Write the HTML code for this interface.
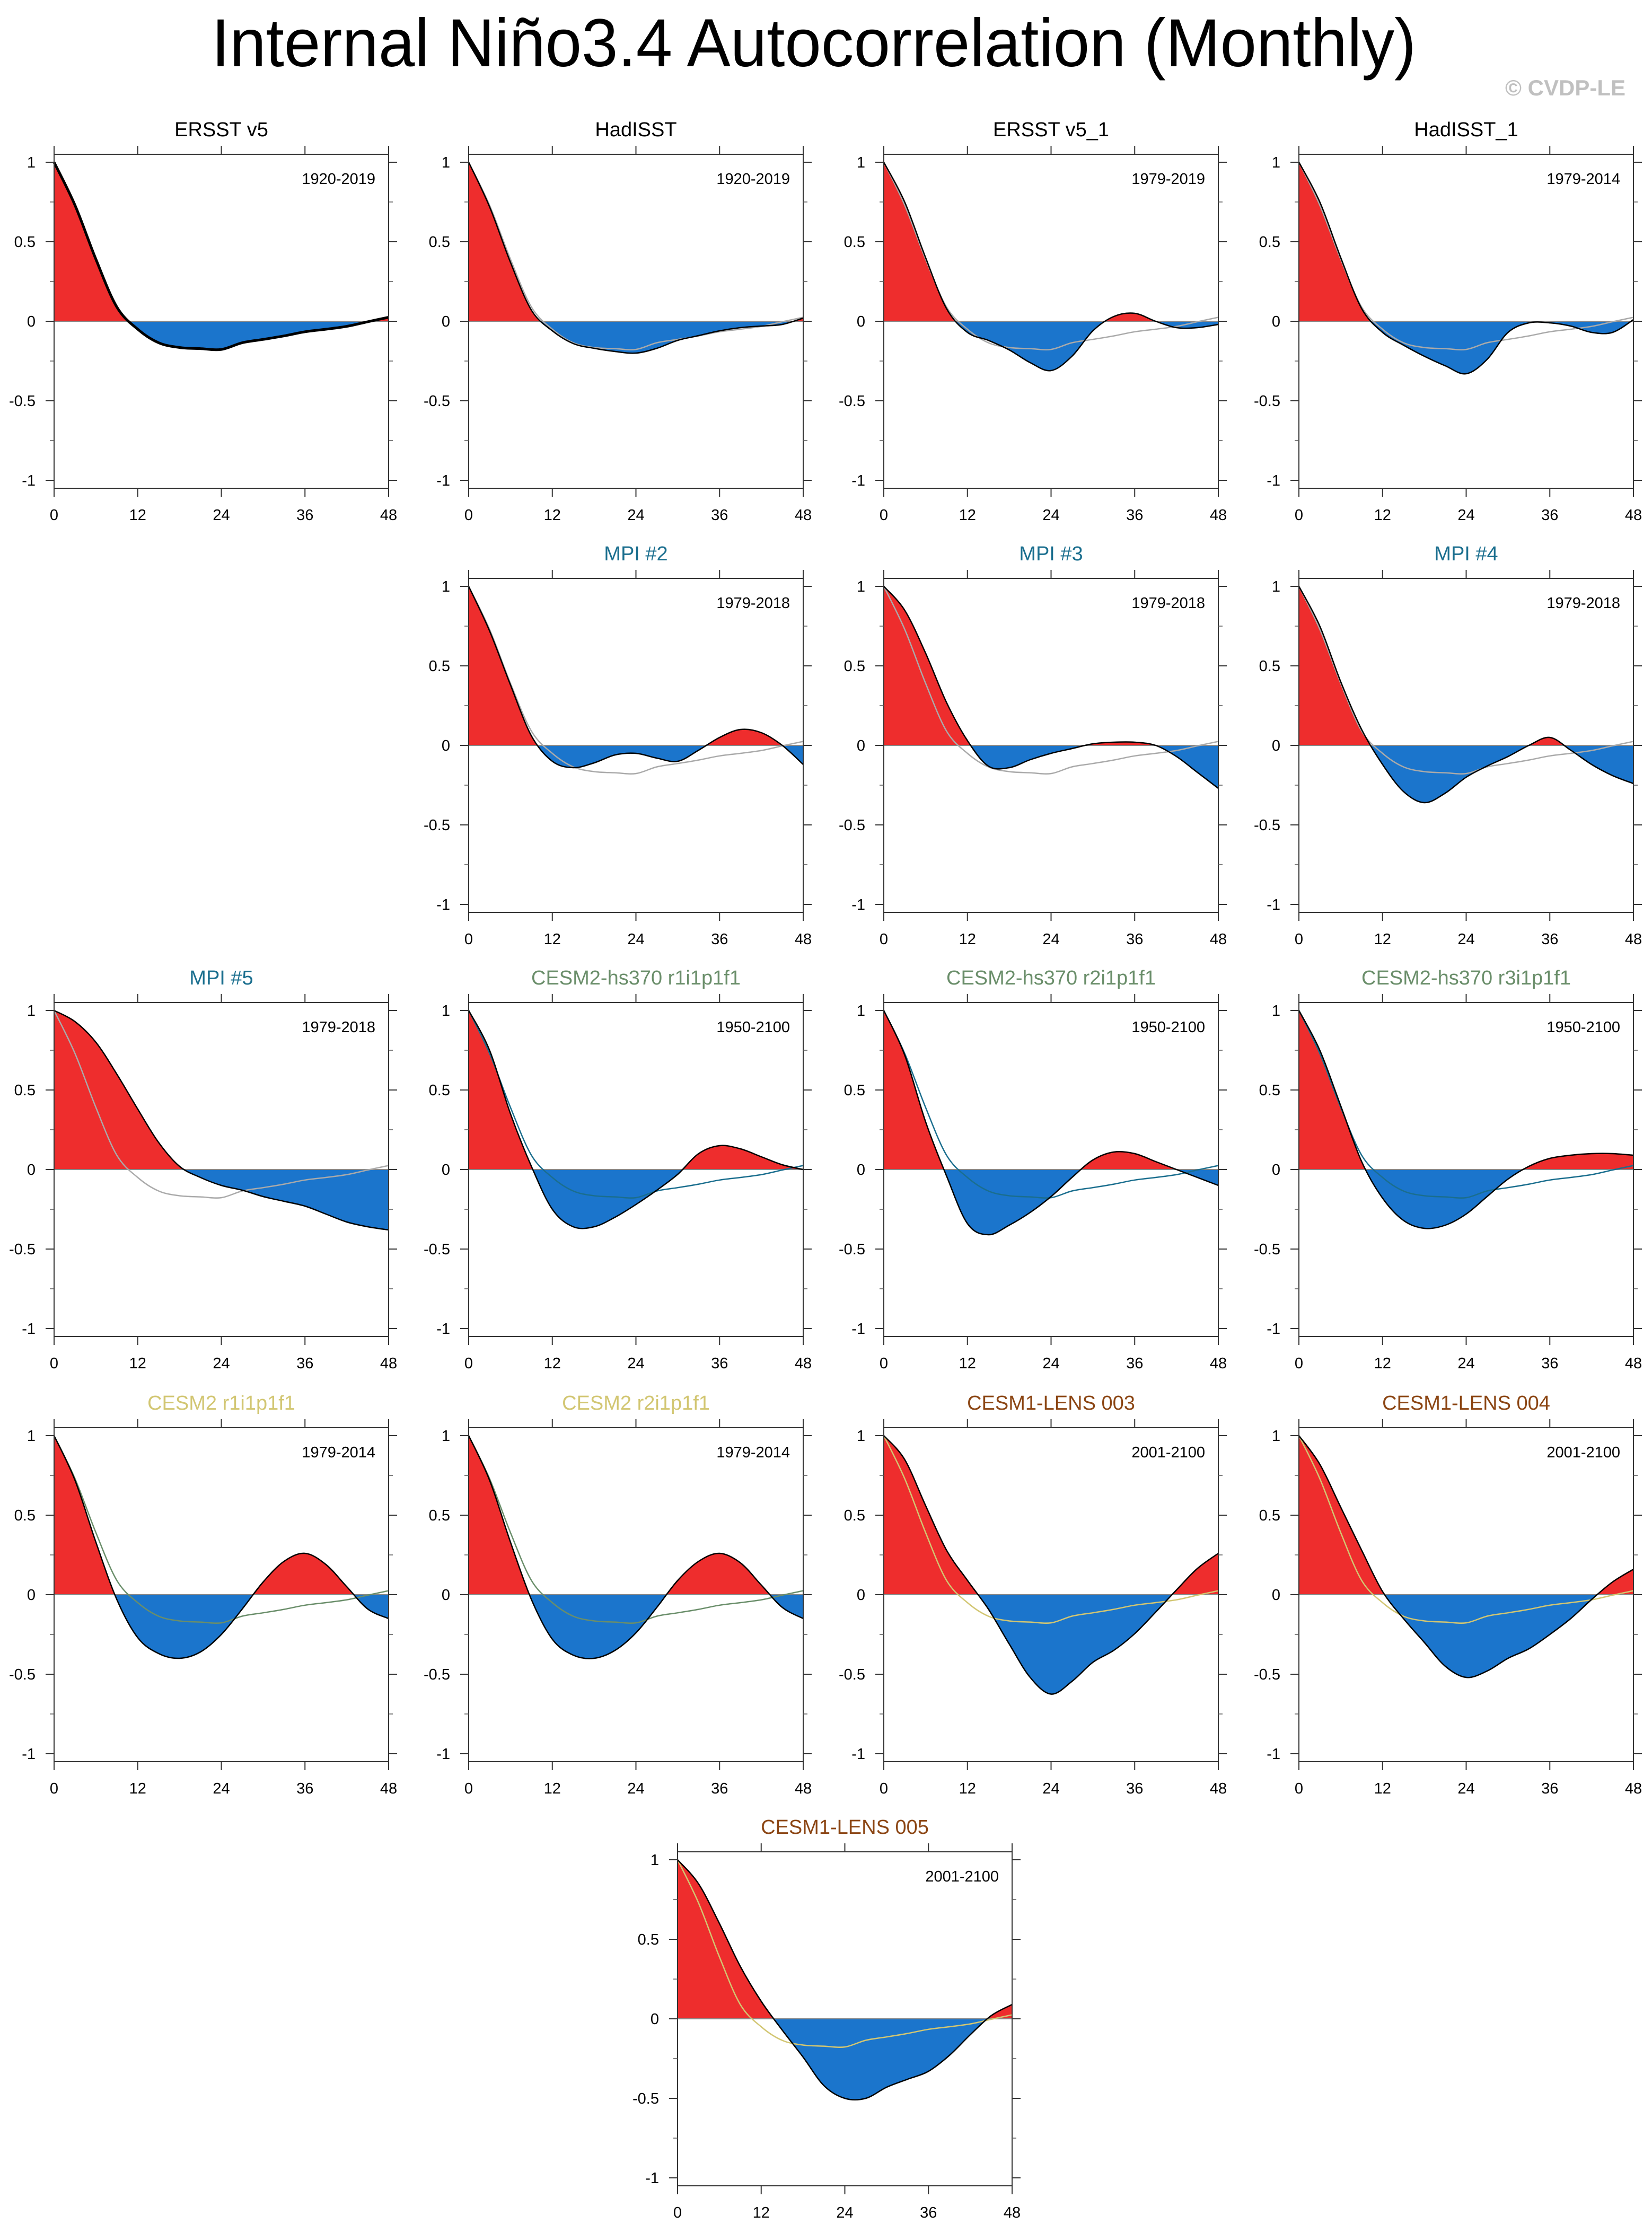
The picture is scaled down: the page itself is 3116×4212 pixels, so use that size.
<!DOCTYPE html>
<html><head><meta charset="utf-8">
<style>
html,body{margin:0;padding:0;background:#fff;}
svg{display:block;font-family:"Liberation Sans",Arial,sans-serif;}
</style></head>
<body>
<svg id="fig" width="3116" height="4212" viewBox="0 0 3116 4212" xmlns="http://www.w3.org/2000/svg">
<text x="1535" y="125" font-size="128" text-anchor="middle" textLength="2272" lengthAdjust="spacingAndGlyphs">Internal Niño3.4 Autocorrelation (Monthly)</text>
<text x="3066" y="180" font-size="42" font-weight="bold" fill="#c0c0c0" text-anchor="end">© CVDP-LE</text>
<g id="panels"></g>
</svg>
<script>
// lags sampled every 3 months (0..48)
const lags = [0,3,6,9,12,15,18,21,24,27,30,33,36,39,42,45,48];
const xTicks = [0,12,24,36,48];
const yTicks = [-1,-0.5,0,0.5,1];
const yMinor = [-0.75,-0.25,0.25,0.75];
const yTickLabels = ["-1","-0.5","0","0.5","1"];
const obsRef = [1,0.73,0.39,0.09,-0.05,-0.135,-0.165,-0.172,-0.177,-0.135,-0.114,-0.092,-0.066,-0.05,-0.032,-0.003,0.025];
const titles = ["ERSST v5","HadISST","ERSST v5_1","HadISST_1","MPI #2","MPI #3","MPI #4","MPI #5","CESM2-hs370 r1i1p1f1","CESM2-hs370 r2i1p1f1","CESM2-hs370 r3i1p1f1","CESM2 r1i1p1f1","CESM2 r2i1p1f1","CESM1-LENS 003","CESM1-LENS 004","CESM1-LENS 005"];
const periods = ["1920-2019","1920-2019","1979-2019","1979-2014","1979-2018","1979-2018","1979-2018","1979-2018","1950-2100","1950-2100","1950-2100","1979-2014","1979-2014","2001-2100","2001-2100","2001-2100"];
const s_ersst = obsRef;
const s_had = [1,0.72,0.37,0.07,-0.06,-0.14,-0.17,-0.19,-0.2,-0.17,-0.12,-0.09,-0.06,-0.04,-0.03,-0.02,0.02];
const s_ersst1 = [1,0.75,0.4,0.08,-0.07,-0.12,-0.18,-0.26,-0.31,-0.22,-0.06,0.03,0.05,0.0,-0.04,-0.04,-0.02];
const s_had1 = [1,0.75,0.4,0.08,-0.07,-0.15,-0.22,-0.28,-0.33,-0.24,-0.07,-0.01,-0.01,-0.03,-0.07,-0.07,0.01];
const s_mpi2 = [1,0.72,0.38,0.06,-0.1,-0.14,-0.11,-0.06,-0.05,-0.08,-0.1,-0.03,0.05,0.1,0.08,0.0,-0.12];
const s_mpi3 = [1,0.85,0.58,0.27,0.03,-0.13,-0.14,-0.09,-0.05,-0.02,0.01,0.02,0.02,0.0,-0.07,-0.17,-0.27];
const s_mpi4 = [1,0.75,0.4,0.1,-0.12,-0.29,-0.36,-0.3,-0.2,-0.13,-0.07,0.0,0.05,-0.03,-0.12,-0.19,-0.24];
const s_mpi5 = [1,0.93,0.8,0.6,0.38,0.17,0.02,-0.05,-0.1,-0.13,-0.17,-0.2,-0.23,-0.28,-0.33,-0.36,-0.38];
const s_hs1 = [1,0.75,0.35,0.02,-0.25,-0.36,-0.36,-0.3,-0.22,-0.13,-0.03,0.1,0.15,0.13,0.08,0.03,0.0];
const s_hs2 = [1,0.72,0.3,-0.04,-0.34,-0.41,-0.35,-0.27,-0.17,-0.05,0.06,0.11,0.1,0.05,0.0,-0.05,-0.1];
const s_hs3 = [1,0.75,0.4,0.05,-0.18,-0.32,-0.37,-0.35,-0.28,-0.17,-0.06,0.02,0.07,0.09,0.1,0.1,0.09];
const s_c2r1 = [1,0.72,0.33,-0.03,-0.27,-0.37,-0.4,-0.36,-0.25,-0.09,0.08,0.21,0.26,0.19,0.05,-0.09,-0.15];
const s_c2r2 = [1,0.72,0.33,-0.03,-0.28,-0.38,-0.4,-0.35,-0.24,-0.08,0.09,0.21,0.26,0.2,0.06,-0.08,-0.15];
const s_l003 = [1,0.85,0.56,0.28,0.09,-0.09,-0.31,-0.52,-0.625,-0.545,-0.425,-0.35,-0.245,-0.11,0.03,0.165,0.26];
const s_l004 = [1,0.82,0.55,0.28,0.02,-0.15,-0.3,-0.45,-0.52,-0.48,-0.4,-0.34,-0.25,-0.15,-0.03,0.08,0.16];
const s_l005 = [1,0.85,0.6,0.33,0.11,-0.07,-0.24,-0.42,-0.5,-0.5,-0.43,-0.38,-0.33,-0.23,-0.1,0.02,0.09];
const series = [s_ersst,s_had,s_ersst1,s_had1,s_mpi2,s_mpi3,s_mpi4,s_mpi5,s_hs1,s_hs2,s_hs3,s_c2r1,s_c2r2,s_l003,s_l004,s_l005];

const titleColors = ["#000","#000","#000","#000","#1a6e8e","#1a6e8e","#1a6e8e","#1a6e8e","#6a8e6a","#6a8e6a","#6a8e6a","#d2c672","#d2c672","#8b4513","#8b4513","#8b4513"];
const overlayColors = [null,"#aaaaaa","#aaaaaa","#aaaaaa","#aaaaaa","#aaaaaa","#aaaaaa","#aaaaaa","#1a6e8e","#1a6e8e","#1a6e8e","#6a8e6a","#6a8e6a","#d2c672","#d2c672","#d2c672"];
const colX = [102,884,1667,2450];
const rowY = [291,1091,1891,2693,3493];
const cells = [[0,0],[1,0],[2,0],[3,0],[1,1],[2,1],[3,1],[0,2],[1,2],[2,2],[3,2],[0,3],[1,3],[2,3],[3,3],[-1,4]];
const W = 631, H = 630;
const NS = "http://www.w3.org/2000/svg";
const root = document.getElementById('panels');
function mk(tag, attrs, parent){const e=document.createElementNS(NS,tag);for(const k in attrs)e.setAttribute(k,attrs[k]);parent.appendChild(e);return e;}
function smoothPath(pts){
  let d = "M"+pts[0][0].toFixed(1)+","+pts[0][1].toFixed(1);
  for(let i=0;i<pts.length-1;i++){
    const p0=pts[Math.max(0,i-1)],p1=pts[i],p2=pts[i+1],p3=pts[Math.min(pts.length-1,i+2)];
    const c1=[p1[0]+(p2[0]-p0[0])/6,p1[1]+(p2[1]-p0[1])/6];
    const c2=[p2[0]-(p3[0]-p1[0])/6,p2[1]-(p3[1]-p1[1])/6];
    d+=" C"+c1[0].toFixed(1)+","+c1[1].toFixed(1)+" "+c2[0].toFixed(1)+","+c2[1].toFixed(1)+" "+p2[0].toFixed(1)+","+p2[1].toFixed(1);
  }
  return d;
}
cells.forEach((c,i)=>{
  const left = c[0] < 0 ? 1278 : colX[c[0]];
  const top = rowY[c[1]];
  const xs = v => left + v/48*W;
  const ys = v => top + H/2 - v*(H/2.1);
  const g = mk('g',{},root);
  
  
  const y0 = ys(0);
  const pts = lags.map((l,k)=>[xs(l), ys(series[i][k])]);
  const curve = smoothPath(pts);
  const area = curve + " L"+xs(48).toFixed(1)+","+y0.toFixed(1)+" L"+xs(0).toFixed(1)+","+y0.toFixed(1)+" Z";
  const cpA = mk('clipPath',{id:'ca'+i},g); mk('rect',{x:left,y:top,width:W,height:y0-top},cpA);
  const cpB = mk('clipPath',{id:'cb'+i},g); mk('rect',{x:left,y:y0,width:W,height:top+H-y0},cpB);
  const pos = mk('path',{d:area,fill:'#ee2d2d','clip-path':'url(#ca'+i+')'},g);
  
  
  const neg = mk('path',{d:area,fill:'#1b75cc','clip-path':'url(#cb'+i+')'},g);
  
  
  const zl = mk('line',{x1:left,x2:left+W,y1:y0,y2:y0,stroke:'#888','stroke-width':2},g);
  
  
  if(overlayColors[i]){
    const opts = lags.map((l,k)=>[xs(l), ys(obsRef[k])]);
    const ov = mk('path',{d:smoothPath(opts),fill:'none',stroke:overlayColors[i],'stroke-width':2.5},g);
    
    
  }
  const ln = mk('path',{d:curve,fill:'none',stroke:'#000','stroke-width':i===0?5:2.5},g);
  
  
  const fr = mk('rect',{x:left,y:top,width:W,height:H,fill:'none',stroke:'#333','stroke-width':2},g);
  
  
  xTicks.forEach(t=>{
    const x=xs(t);
    mk('line',{x1:x,x2:x,y1:top,y2:top-16,stroke:'#333','stroke-width':2},g);
    mk('line',{x1:x,x2:x,y1:top+H,y2:top+H+16,stroke:'#333','stroke-width':2},g);
    const tl = mk('text',{x:x,y:top+H+60,'font-size':29,'text-anchor':'middle'},g);
    tl.textContent = String(t);
    
    
  });
  yTicks.forEach((t,k)=>{
    const y=ys(t);
    mk('line',{x1:left,x2:left-16,y1:y,y2:y,stroke:'#333','stroke-width':2},g);
    mk('line',{x1:left+W,x2:left+W+16,y1:y,y2:y,stroke:'#333','stroke-width':2},g);
    const tl = mk('text',{x:left-35,y:y+10,'font-size':29,'text-anchor':'end'},g);
    tl.textContent = yTickLabels[k];
    
    
  });
  yMinor.forEach(t=>{
    const y=ys(t);
    mk('line',{x1:left,x2:left-8,y1:y,y2:y,stroke:'#555','stroke-width':1.5},g);
    mk('line',{x1:left+W,x2:left+W+8,y1:y,y2:y,stroke:'#555','stroke-width':1.5},g);
  });
  const tt = mk('text',{x:left+W/2,y:top-34,'font-size':38,'text-anchor':'middle',fill:titleColors[i]},g);
  tt.textContent = titles[i];
  
  
  const pl = mk('text',{x:left+W-25,y:top+56,'font-size':29,'text-anchor':'end'},g);
  pl.textContent = periods[i];
  
  
});
</script>
</body></html>
